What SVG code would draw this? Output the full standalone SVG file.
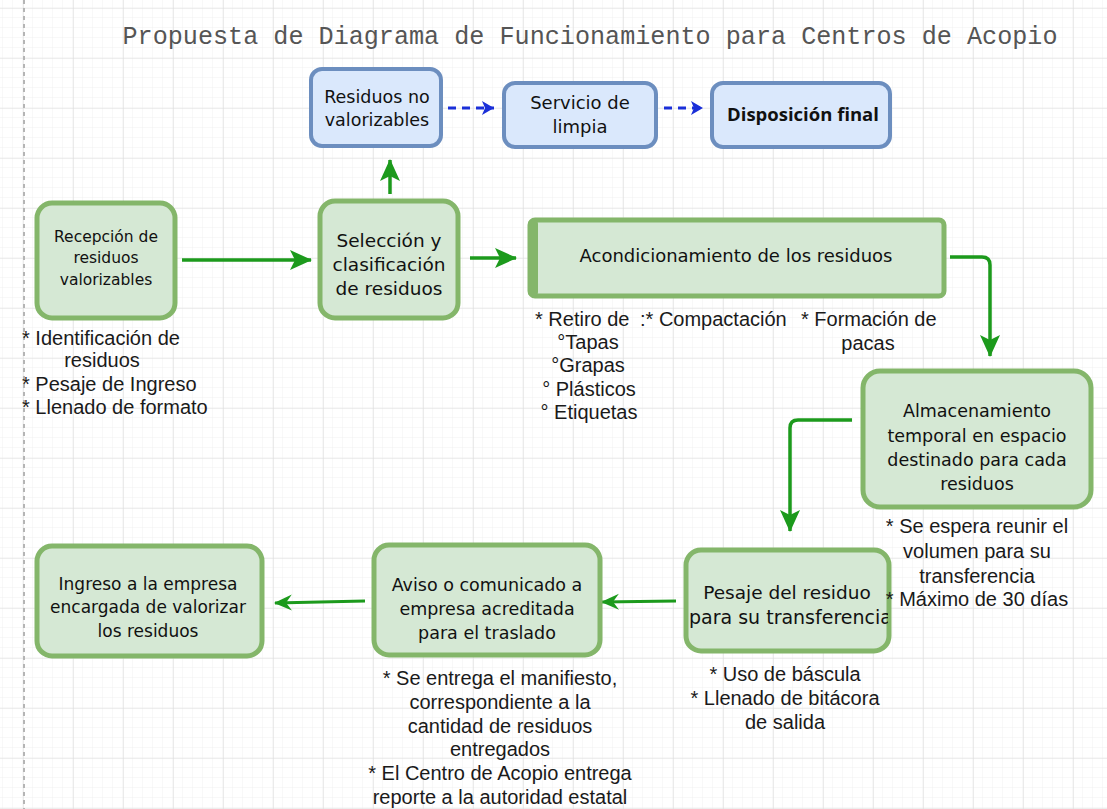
<svg xmlns="http://www.w3.org/2000/svg" width="1107" height="809" viewBox="0 0 1107 809">
<defs>
  <pattern id="minor" x="3" y="8" width="10" height="10" patternUnits="userSpaceOnUse">
    <path d="M10,0 V10 M0,10 H10" fill="none" stroke="#f0f0f0" stroke-width="1"/>
  </pattern>
  <pattern id="major" x="23" y="8" width="50" height="50" patternUnits="userSpaceOnUse">
    <path d="M0,0 V50 M0,0 H50" fill="none" stroke="#dedede" stroke-width="1.2"/>
  </pattern>
  <marker id="ga" viewBox="0 0 22 20" markerWidth="22" markerHeight="20" refX="21" refY="10" orient="auto" markerUnits="userSpaceOnUse">
    <path d="M0,0 L22,10 L0,20 L5,10 z" fill="#1c9a1c"/>
  </marker>
  <marker id="gs" viewBox="0 0 18 18" markerWidth="18" markerHeight="18" refX="17" refY="9" orient="auto" markerUnits="userSpaceOnUse">
    <path d="M0,1 L18,9 L0,17 L6,9 z" fill="#1c9a1c"/>
  </marker>
  <marker id="ba" viewBox="0 0 12 14" markerWidth="12" markerHeight="14" refX="12" refY="7" orient="auto" markerUnits="userSpaceOnUse">
    <path d="M0,0 L12,7 L0,14 L3,7 z" fill="#1a2fd8"/>
  </marker>
  <clipPath id="pclip"><rect x="686" y="550" width="202" height="100"/></clipPath>
</defs>
<style>
  .gbox { fill:#d5e8d4; stroke:#84b66a; stroke-width:5; }
  .bbox { fill:#dae8fc; stroke:#6c8ebf; stroke-width:4; }
  .nt { font-family:"DejaVu Sans", "Open Sans", sans-serif; fill:#111; text-anchor:middle; }
  .nt.st { text-anchor:start; }
  .an { font-family:"Liberation Sans", Arial, sans-serif; font-size:20px; fill:#1a1a1a; }
  .mid { text-anchor:middle; }
  .g { fill:none; stroke:#1c9a1c; stroke-width:3.5; }
  .gt { fill:none; stroke:#1c9a1c; stroke-width:3; }
  .b { fill:none; stroke:#1a2fd8; stroke-width:3; stroke-dasharray:8 6; }
</style>
<rect width="1107" height="809" fill="#ffffff"/>
<rect width="1107" height="809" fill="url(#minor)"/>
<rect width="1107" height="809" fill="url(#major)"/>
<line x1="24" y1="0" x2="24" y2="809" stroke="#b5b5b5" stroke-width="2" stroke-dasharray="4 4"/>

<text x="590" y="44" font-family="Liberation Mono, DejaVu Sans Mono, monospace" font-size="25" fill="#555" text-anchor="middle" textLength="935" lengthAdjust="spacingAndGlyphs">Propuesta de Diagrama de Funcionamiento para Centros de Acopio</text>

<g id="connectors">
  <line class="b" x1="448" y1="108" x2="494" y2="108" marker-end="url(#ba)"/>
  <line class="b" x1="664" y1="108" x2="703" y2="108" marker-end="url(#ba)"/>
  <line class="g" x1="390" y1="194" x2="390" y2="160" marker-end="url(#ga)"/>
  <line class="g" x1="182" y1="260" x2="311" y2="260" marker-end="url(#ga)"/>
  <line class="g" x1="470" y1="258" x2="516" y2="258" marker-end="url(#ga)"/>
  <path class="g" d="M950,257 H982 Q990,257 990,265 V356" marker-end="url(#ga)"/>
  <path class="g" d="M852,420 H798 Q790,420 790,428 V531" marker-end="url(#ga)"/>
  <line class="gt" x1="676" y1="601" x2="602" y2="602" marker-end="url(#gs)"/>
  <line class="gt" x1="365" y1="601" x2="275" y2="603" marker-end="url(#gs)"/>
</g>

<g id="residuos-no-valorizables">
  <rect class="bbox" x="311" y="69" width="130" height="77" rx="11"/>
  <text class="nt" font-size="17.5" x="377" y="103">Residuos no</text>
  <text class="nt" font-size="17.5" x="377" y="126">valorizables</text>
</g>
<g id="servicio-limpia">
  <rect class="bbox" x="504" y="83" width="152" height="64" rx="11"/>
  <text class="nt" font-size="18" x="580" y="109">Servicio de</text>
  <text class="nt" font-size="18" x="580" y="133">limpia</text>
</g>
<g id="disposicion-final">
  <rect class="bbox" x="712" y="83" width="178" height="64" rx="11"/>
  <text font-family="Open Sans, sans-serif" font-size="18.5" font-weight="bold" fill="#111" text-anchor="middle" x="803" y="121">Disposición final</text>
</g>

<g id="recepcion">
  <rect class="gbox" x="37" y="203" width="138" height="115" rx="15"/>
  <text class="nt" font-size="15.5" x="106" y="242">Recepción de</text>
  <text class="nt" font-size="15.5" x="106" y="263">residuos</text>
  <text class="nt" font-size="15.5" x="106" y="285">valorizables</text>
</g>
<g id="seleccion">
  <rect class="gbox" x="320" y="201" width="138" height="117" rx="15"/>
  <text class="nt" font-size="18.5" x="389" y="247">Selección y</text>
  <text class="nt" font-size="18.5" x="389" y="271">clasificación</text>
  <text class="nt" font-size="18.5" x="389" y="295">de residuos</text>
</g>
<g id="acondicionamiento">
  <rect class="gbox" x="530" y="220" width="414" height="76" rx="5"/>
  <rect x="528" y="220" width="10" height="76" rx="4" fill="#84b66a"/>
  <text class="nt" font-size="18" x="736" y="262">Acondicionamiento de los residuos</text>
</g>
<g id="almacenamiento">
  <rect class="gbox" x="863" y="371" width="228" height="136" rx="17"/>
  <text class="nt" font-size="17.5" x="977" y="417">Almacenamiento</text>
  <text class="nt" font-size="17.5" x="977" y="442">temporal en espacio</text>
  <text class="nt" font-size="17.5" x="977" y="466">destinado para cada</text>
  <text class="nt" font-size="17.5" x="977" y="490">residuos</text>
</g>
<g id="pesaje">
  <rect class="gbox" x="686" y="550" width="203" height="101" rx="15"/>
  <g clip-path="url(#pclip)">
    <text class="nt" font-size="18.5" x="787" y="599">Pesaje del residuo</text>
    <text class="nt st" font-size="19" x="689" y="624">para su transferencia</text>
  </g>
</g>
<g id="aviso">
  <rect class="gbox" x="374" y="545" width="226" height="110" rx="15"/>
  <text class="nt" font-size="17.5" x="487" y="591">Aviso o comunicado a</text>
  <text class="nt" font-size="17.5" x="487" y="615">empresa acreditada</text>
  <text class="nt" font-size="17.5" x="487" y="639">para el traslado</text>
</g>
<g id="ingreso">
  <rect class="gbox" x="37" y="546" width="225" height="110" rx="15"/>
  <text class="nt" font-size="17" x="148" y="590">Ingreso a la empresa</text>
  <text class="nt" font-size="17" x="148" y="613">encargada de valorizar</text>
  <text class="nt" font-size="17" x="148" y="637">los residuos</text>
</g>

<g id="notas-recepcion">
  <text class="an" x="22" y="345">* Identificación de</text>
  <text class="an mid" x="102" y="367">residuos</text>
  <text class="an" x="22" y="391">* Pesaje de Ingreso</text>
  <text class="an" x="22" y="414">* Llenado de formato</text>
</g>
<g id="notas-acondicionamiento">
  <text class="an" x="535" y="326">* Retiro de</text>
  <text class="an" x="640" y="326">:* Compactación</text>
  <text class="an" x="801" y="326">* Formación de</text>
  <text class="an mid" x="868" y="350">pacas</text>
  <text class="an mid" x="588" y="349">°Tapas</text>
  <text class="an mid" x="588" y="372">°Grapas</text>
  <text class="an mid" x="589" y="396">° Plásticos</text>
  <text class="an mid" x="589" y="419">° Etiquetas</text>
</g>
<g id="notas-almacenamiento">
  <text class="an mid" x="977" y="533">* Se espera reunir el</text>
  <text class="an mid" x="977" y="558">volumen para su</text>
  <text class="an mid" x="977" y="583">transferencia</text>
  <text class="an mid" x="977" y="606">* Máximo de 30 días</text>
</g>
<g id="notas-pesaje">
  <text class="an mid" x="785" y="681">* Uso de báscula</text>
  <text class="an mid" x="785" y="705">* Llenado de bitácora</text>
  <text class="an mid" x="785" y="729">de salida</text>
</g>
<g id="notas-aviso">
  <text class="an mid" x="500" y="685">* Se entrega el manifiesto,</text>
  <text class="an mid" x="500" y="709">correspondiente a la</text>
  <text class="an mid" x="500" y="733">cantidad de residuos</text>
  <text class="an mid" x="500" y="756">entregados</text>
  <text class="an mid" x="500" y="780">* El Centro de Acopio entrega</text>
  <text class="an mid" x="500" y="804">reporte a la autoridad estatal</text>
</g>
</svg>
